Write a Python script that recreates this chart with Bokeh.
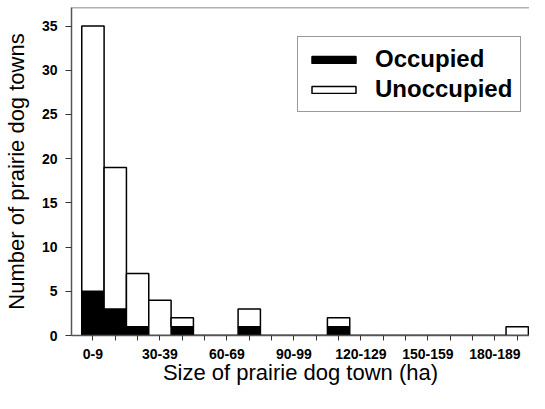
from bokeh.plotting import figure
from bokeh.models import ColumnDataSource, FixedTicker, Legend, LegendItem, Range1d, Span
from bokeh.embed import file_html
from bokeh.resources import INLINE

# ---- data ----
bin_pos = [0, 1, 2, 3, 4, 5, 6, 7, 8, 9, 10, 11, 12, 13, 14, 15, 16, 17, 18, 19]
occupied = [5, 3, 1, 0, 1, 0, 0, 1, 0, 0, 0, 1, 0, 0, 0, 0, 0, 0, 0, 0]
unoccupied = [30, 16, 6, 4, 1, 0, 0, 2, 0, 0, 0, 1, 0, 0, 0, 0, 0, 0, 0, 1]
label_pos = [0, 3, 6, 9, 12, 15, 18]
label_text = ["0-9", "30-39", "60-69", "90-99", "120-129", "150-159", "180-189"]
y_ticks = [0, 5, 10, 15, 20, 25, 30, 35]

src = ColumnDataSource(dict(x=bin_pos, occupied=occupied, unoccupied=unoccupied))

Y_TOP = 37.1
p = figure(width=529, height=393, output_backend="svg", toolbar_location=None,
           x_range=Range1d(-0.96, 19.55), y_range=Range1d(0, Y_TOP),
           min_border_left=71, min_border_right=0, min_border_top=7, min_border_bottom=58)
p.title.visible = False

renderers = p.vbar_stack(["occupied", "unoccupied"], x="x", width=1.0, source=src,
                         fill_color=["black", "white"], line_color="black", line_width=1.5)

p.xgrid.visible = False
p.ygrid.visible = False
p.outline_line_color = None
p.background_fill_color = "white"
p.border_fill_color = "white"

# top frame line
p.add_layout(Span(location=Y_TOP, dimension="width", line_color="#666666", line_width=1.5))

font = "Liberation Sans"
# x axis
xa = p.xaxis[0]
xa.ticker = FixedTicker(ticks=bin_pos)
overrides = {i: "" for i in bin_pos}
for pos, txt in zip(label_pos, label_text):
    overrides[pos] = txt
xa.major_label_overrides = overrides
xa.minor_tick_line_color = None
xa.major_tick_in = 0
xa.major_tick_out = 5
xa.major_tick_line_color = "#333333"
xa.axis_line_color = "#555555"
xa.axis_line_width = 1.5
xa.major_label_text_font = font
xa.major_label_text_font_style = "bold"
xa.major_label_text_font_size = "14px"
xa.major_label_text_color = "black"
xa.major_label_standoff = 8
xa.axis_label = "Size of prairie dog town (ha)"
xa.axis_label_text_font = font
xa.axis_label_text_font_style = "normal"
xa.axis_label_text_font_size = "22px"
xa.axis_label_text_color = "black"
xa.axis_label_standoff = -2

# y axis
ya = p.yaxis[0]
ya.ticker = FixedTicker(ticks=y_ticks)
ya.minor_tick_line_color = None
ya.major_tick_in = 0
ya.major_tick_out = 6
ya.major_tick_line_color = "#333333"
ya.axis_line_color = "#555555"
ya.axis_line_width = 1.5
ya.major_label_text_font = font
ya.major_label_text_font_style = "bold"
ya.major_label_text_font_size = "14px"
ya.major_label_text_color = "black"
ya.major_label_standoff = 8
ya.axis_label = "Number of prairie dog towns"
ya.axis_label_text_font = font
ya.axis_label_text_font_style = "normal"
ya.axis_label_text_font_size = "22px"
ya.axis_label_text_color = "black"
ya.axis_label_standoff = 10

legend = Legend(items=[LegendItem(label="Occupied", renderers=[renderers[0]]),
                       LegendItem(label="Unoccupied", renderers=[renderers[1]])],
                location=(226, 223))
legend.glyph_width = 55
legend.glyph_height = 9
legend.label_standoff = 14
legend.label_text_font = font
legend.label_text_font_style = "bold"
legend.label_text_font_size = "24px"
legend.label_text_color = "black"
legend.label_height = 24
legend.padding = 8
legend.spacing = 2
legend.margin = 0
legend.border_line_color = "#333333"
legend.border_line_width = 1
legend.background_fill_alpha = 1.0
p.add_layout(legend)

open("out.html", "w").write(file_html(p, INLINE))
